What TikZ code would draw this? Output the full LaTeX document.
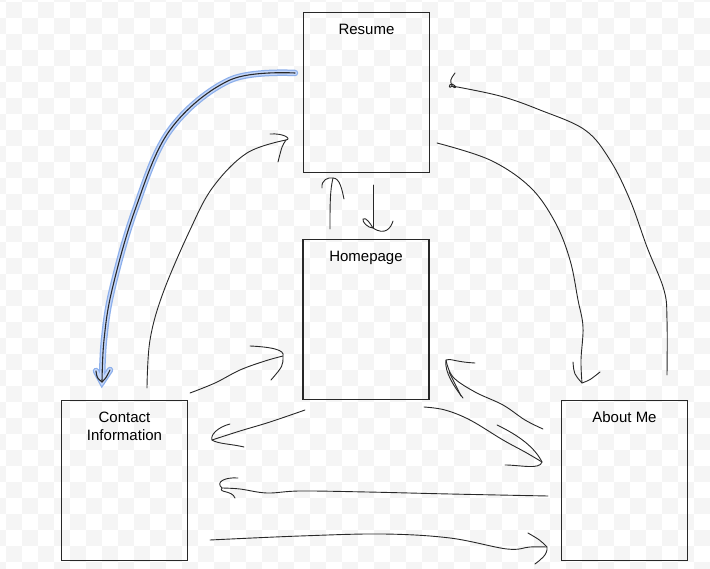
\documentclass[tikz,border=0pt]{standalone}
\usepackage{fontspec}
\setmainfont{Liberation Sans}
\definecolor{chk}{RGB}{245,245,245}
\definecolor{ink}{RGB}{40,40,40}
\definecolor{glow}{RGB}{140,175,235}
\definecolor{glowin}{RGB}{195,214,250}
\begin{document}
\begin{tikzpicture}[x=1pt,y=-1pt,
  box/.style={draw=ink, line width=1.7pt, minimum width=126pt, minimum height=160pt, inner sep=0pt},
  lbl/.style={font=\fontsize{15}{18}\selectfont, align=center, inner sep=0pt, text=black},
  pen/.style={draw=ink, line width=0.9pt, line cap=round, line join=round},
  hl/.style={draw=glow, line width=6.5pt, line cap=round},
  hlin/.style={draw=glowin, line width=4pt, line cap=round}]
\useasboundingbox (0,0) rectangle (710,569);
\fill[white] (0,0) rectangle (710,569);
\begin{scope}
\clip (0,0) rectangle (710,569);
\foreach \i in {0,2,...,46}{
  \foreach \j in {0,2,...,36}{
    \fill[chk] (\i*16-10,\j*16-14) rectangle ++(16,16);
    \fill[chk] (\i*16+6,\j*16+2) rectangle ++(16,16);
  }
}
\end{scope}
% boxes
\node[box] (resume) at (366.5,92.5) {};
\node[box] (home) at (366,319.5) {};
\node[box] (contact) at (124.5,480.5) {};
\node[box] (about) at (624.5,480.5) {};
\node[lbl, anchor=north] (tresume) at ([yshift=-12pt]resume.north) {Resume};
\node[lbl, anchor=north] (thome) at ([yshift=-12pt]home.north) {Homepage};
\node[lbl, anchor=north] (tcontact) at ([yshift=-12pt]contact.north) {Contact\\Information};
\node[lbl, anchor=north] (tabout) at ([yshift=-12pt]about.north) {About Me};
% coordinates
\coordinate (a1s) at (295,73);
\coordinate (a1t) at (102,382);
\coordinate (a2s) at (147,388);
\coordinate (a2t) at (286,140);
\coordinate (a3s) at (190,393);
\coordinate (a3t) at (283,356);
\coordinate (a4s) at (305,410);
\coordinate (a4t) at (212,440);
\coordinate (a5s) at (373,185);
\coordinate (a5t) at (373,228);
\coordinate (a6s) at (330,229);
\coordinate (a6t) at (333,178);
\coordinate (a7s) at (437,143);
\coordinate (a7t) at (582,383);
\coordinate (a8s) at (667,375);
\coordinate (a8t) at (452,86);
\coordinate (a9s) at (543,429);
\coordinate (a9t) at (446,360);
\coordinate (a10s) at (424,407);
\coordinate (a10t) at (542,462);
\coordinate (a11s) at (548,496);
\coordinate (a11t) at (222,488);
\coordinate (a12s) at (210,540);
\coordinate (a12t) at (547,547);
% 1 blue highlighted Resume -> Contact
\draw[hl] plot[smooth, tension=0.6] coordinates {(a1s) (230,80) (170,130) (135,210) (112,290) (104,340) (102,382)};
\draw[hl] (96,371) -- (a1t) -- (110,370);
\draw[hlin] plot[smooth, tension=0.6] coordinates {(a1s) (230,80) (170,130) (135,210) (112,290) (104,340) (102,382)};
\draw[hlin] (96,371) -- (a1t) -- (110,370);
\draw[pen, line width=1.1pt] plot[smooth, tension=0.6] coordinates {(a1s) (230,80) (170,130) (135,210) (112,290) (104,340) (a1t)};
\draw[pen, line width=1.1pt] (96,371) .. controls (97,378) .. (a1t) .. controls (106,378) .. (110,370);
% 2 Contact -> Resume
\draw[pen] plot[smooth, tension=0.6] coordinates {(a2s) (150,340) (163,293) (190,230) (213,187) (247,153) (a2t)};
\draw[pen] (270,134) .. controls (284,133) and (292,139) .. (a2t) .. controls (282,146) .. (278,162);
% 3 Contact -> Homepage
\draw[pen] plot[smooth, tension=0.6] coordinates {(a3s) (215,383) (240,370) (265,361) (a3t)};
\draw[pen] (250,346) .. controls (272,347) and (285,350) .. (a3t) .. controls (283,366) .. (271,380);
% 4 Homepage -> Contact
\draw[pen] plot[smooth, tension=0.6] coordinates {(a4s) (270,422) (240,431) (a4t)};
\draw[pen] (230,424) .. controls (218,427) and (210,435) .. (a4t) .. controls (218,444) and (232,444) .. (244,447);
% 5 Resume -> Homepage
\draw[pen] (a5s) -- (a5t);
\draw[pen] (a5t) .. controls (368,228) and (362,222) .. (363,219) .. controls (366,217) and (370,223) .. (a5t) .. controls (385,236) and (391,228) .. (393,221);
% 6 Homepage -> Resume
\draw[pen] (a6s) .. controls (330,205) and (330,190) .. (a6t);
\draw[pen] (322,188) .. controls (321,180) and (328,177) .. (a6t) .. controls (340,178) and (342,190) .. (344,199);
% 7 Resume -> About Me
\draw[pen] plot[smooth, tension=0.6] coordinates {(a7s) (490,160) (530,187) (555,222) (570,260) (578,300) (583,327) (581,360) (a7t)};
\draw[pen] (573,362) .. controls (574,374) .. (a7t) .. controls (590,380) .. (600,372);
% 8 About Me -> Resume
\draw[pen] plot[smooth, tension=0.6] coordinates {(a8s) (667,320) (664,290) (647,247) (630,200) (610,160) (585,130) (540,110) (500,96) (a8t)};
\draw[pen] (a8t) .. controls (449,90) and (448,84) .. (452,84) .. controls (457,86) and (457,90) .. (a8t) .. controls (450,80) .. (455,73);
% 9 About Me -> Homepage
\draw[pen] plot[smooth, tension=0.6] coordinates {(a9s) (525,420) (503,405) (475,392) (453,377) (a9t)};
\draw[pen] (475,363) .. controls (455,362) and (450,358) .. (a9t) .. controls (444,372) and (455,388) .. (463,398);
\draw[pen] (449,372) -- (461,396);
% 10 Homepage -> About Me
\draw[pen] plot[smooth, tension=0.6] coordinates {(a10s) (445,410) (470,420) (503,440) (525,452) (a10t)};
\draw[pen] (497,425) .. controls (520,436) and (535,448) .. (a10t) .. controls (540,470) and (520,465) .. (505,465);
% 11 About Me -> Contact
\draw[pen] plot[smooth, tension=0.6] coordinates {(a11s) (450,494) (367,492) (300,491) (267,493) (240,489) (a11t)};
\draw[pen] (238,478) .. controls (225,477) and (215,482) .. (a11t) .. controls (218,493) and (232,490) .. (235,498);
% 12 Contact -> About Me
\draw[pen] plot[smooth, tension=0.6] coordinates {(a12s) (300,536) (383,534) (450,538) (507,549) (530,547) (a12t)};
\draw[pen] (528,533) .. controls (540,540) .. (a12t) .. controls (548,555) and (540,560) .. (535,564);
\end{tikzpicture}
\end{document}
